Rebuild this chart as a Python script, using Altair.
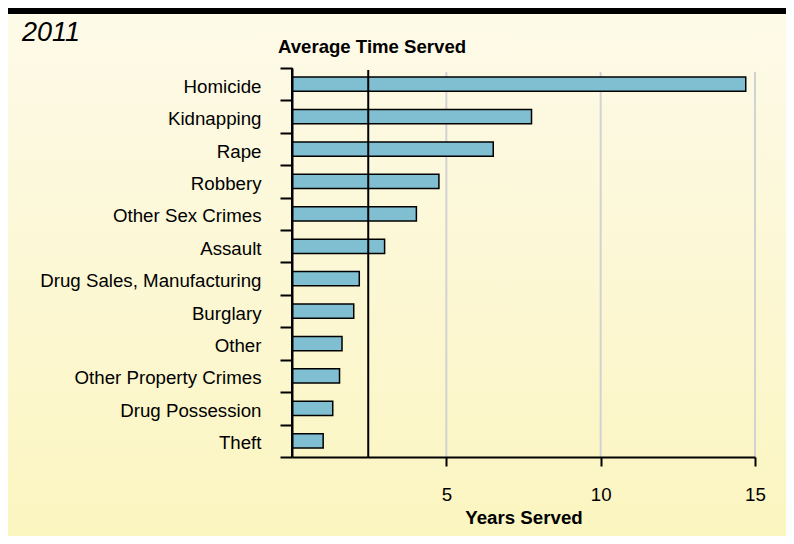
import altair as alt
import pandas as pd

categories = ["Homicide", "Kidnapping", "Rape", "Robbery", "Other Sex Crimes", "Assault",
              "Drug Sales, Manufacturing", "Burglary", "Other", "Other Property Crimes",
              "Drug Possession", "Theft"]
years_served = [14.7, 7.76, 6.52, 4.76, 4.03, 3.0, 2.18, 2.0, 1.62, 1.54, 1.32, 1.01]
average_line = [2.47]
grid_values = [5, 10, 15]
tick_values = [5, 10, 15]
axis_origin = [0]

df = pd.DataFrame({"crime": categories, "years": years_served})
avg_df = pd.DataFrame({"avg": average_line})
grid_df = pd.DataFrame({"g": grid_values})
origin_df = pd.DataFrame({"o": axis_origin})

W, H = 463, 389
PL, PT, PR, PB = 284, 60, 31, 79
FONT = "Liberation Sans"
FS = 18.7

bg = alt.Chart(pd.DataFrame({"a": [0]})).mark_rect(
    fill=alt.Gradient(gradient="linear", x1=0, x2=0, y1=0, y2=1,
                      stops=[alt.GradientStop(color="#fdfae9", offset=0),
                             alt.GradientStop(color="#fbf5c0", offset=1)])
).encode(x=alt.value(-PL), x2=alt.value(W + PR), y=alt.value(-PT), y2=alt.value(H + PB))

topbar = alt.Chart(pd.DataFrame({"a": [0]})).mark_rect(color="black").encode(
    x=alt.value(-PL), x2=alt.value(W + PR), y=alt.value(-PT), y2=alt.value(-PT + 6))

year_text = alt.Chart(pd.DataFrame({"t": ["2011"]})).mark_text(
    font=FONT, fontSize=27, fontStyle="italic", align="left", baseline="alphabetic", color="black"
).encode(text="t:N", x=alt.value(14 - PL), y=alt.value(33 - PT))

title_text = alt.Chart(pd.DataFrame({"t": ["Average Time Served"]})).mark_text(
    font=FONT, fontSize=18.6, fontWeight="bold", align="left", baseline="alphabetic", color="black"
).encode(text="t:N", x=alt.value(-14), y=alt.value(-15.5))

xscale = alt.Scale(domain=[0, 15], nice=False, zero=True)

grid = alt.Chart(grid_df).mark_rule(color="#d2d2d2", strokeWidth=2).encode(
    x=alt.X("g:Q", scale=xscale), y=alt.value(4), y2=alt.value(H))

bars = alt.Chart(df).mark_bar(fill="#80bfd1", stroke="black", strokeWidth=1.5,
                              height={"band": 0.44}).encode(
    x=alt.X("years:Q", scale=xscale,
            axis=alt.Axis(title="Years Served", values=tick_values, grid=False, zindex=1,
                          domainColor="black", domainWidth=2, tickColor="black", tickWidth=2,
                          tickSize=9, labelFont=FONT, labelFontSize=FS, labelColor="black",
                          labelPadding=19, labelFlush=False, titleFont=FONT, titleFontSize=FS,
                          titleFontWeight="bold", titleColor="black", titlePadding=5)),
    y=alt.Y("crime:N", sort=categories, scale=alt.Scale(paddingInner=0, paddingOuter=0),
            axis=alt.Axis(title=None, grid=False, zindex=1, tickBand="extent",
                          domainColor="black", domainWidth=2, tickColor="black", tickWidth=2,
                          tickSize=12, labelFont=FONT, labelFontSize=FS, labelColor="black",
                          labelPadding=19, labelLimit=400, labelOffset=2)),
)

origin = alt.Chart(origin_df).mark_rule(color="black", strokeWidth=2).encode(
    x=alt.X("o:Q", scale=xscale), y=alt.value(0), y2=alt.value(H))

avg = alt.Chart(avg_df).mark_rule(color="black", strokeWidth=2).encode(
    x=alt.X("avg:Q", scale=xscale), y=alt.value(2), y2=alt.value(H))

chart = alt.layer(bg, topbar, year_text, title_text, grid, bars, origin, avg).properties(
    width=W, height=H,
    autosize=alt.AutoSizeParams(type="none"),
    padding={"left": PL, "top": PT, "right": PR, "bottom": PB},
).configure_view(stroke=None).configure(background="#fbf5c0")

chart.save("out.html", embed_options={"renderer": "svg", "actions": False})
